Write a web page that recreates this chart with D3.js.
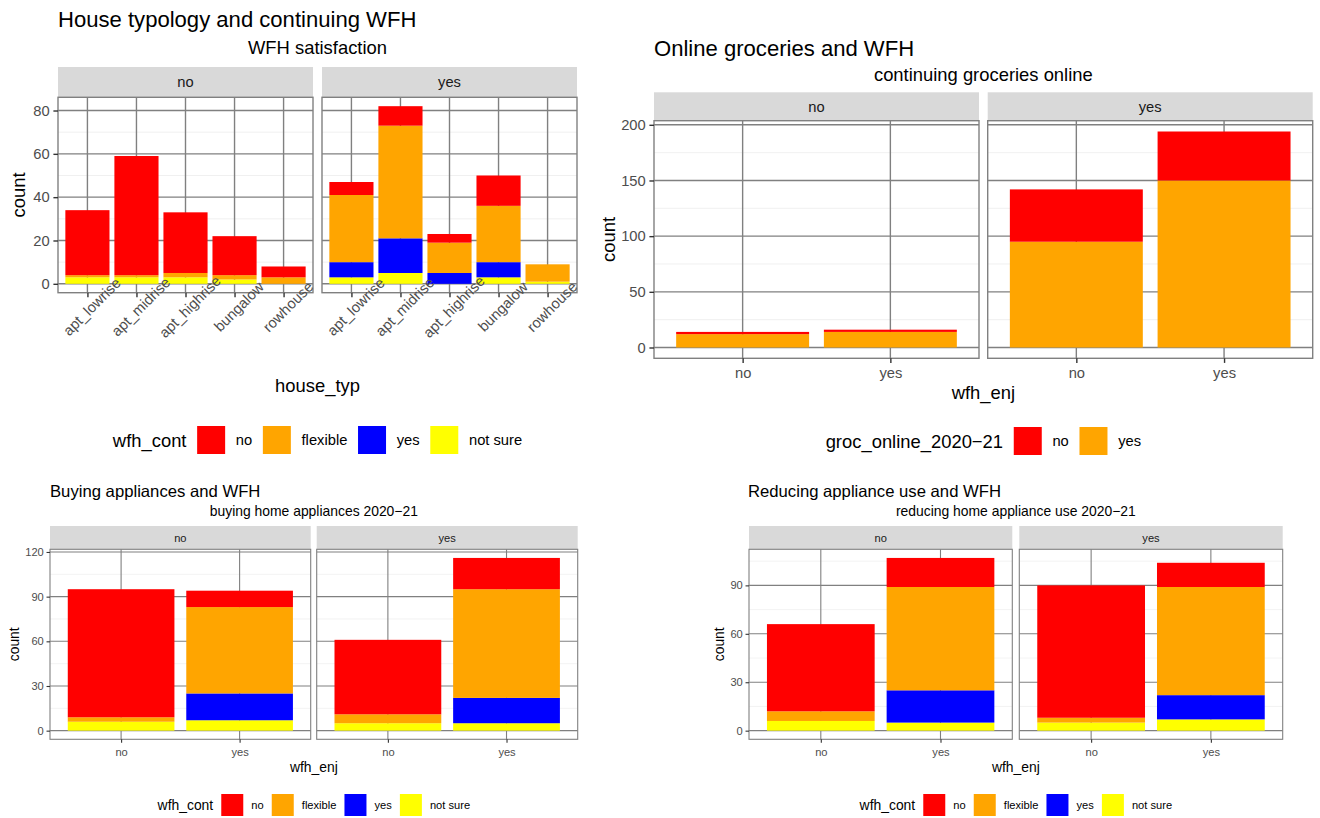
<!DOCTYPE html>
<html>
<head>
<meta charset="utf-8">
<script src="https://cdn.jsdelivr.net/npm/d3@7"></script>
<style>
  body { margin: 0; background: #fff; }
  text { font-family: "Liberation Sans", Arial, Helvetica, sans-serif; }
</style>
</head>
<body>
<svg id="fig" width="1320" height="818"></svg>
<script>
// ---- data ----
var wfhLevels = ["no", "flexible", "yes", "not sure"];
var wfhColors = ["#ff0000", "#ffa500", "#0000ff", "#ffff00"];
var grocLevels = ["no", "yes"];
var grocColors = ["#ff0000", "#ffa500"];
var facetCats = ["no", "yes"];
var houseTypes = ["apt_lowrise", "apt_midrise", "apt_highrise", "bungalow", "rowhouse"];
var enjCats = ["no", "yes"];

// house typology, facet = WFH satisfaction
var house_no_no       = [30, 55, 28, 18, 5];
var house_no_flexible = [1, 1, 2, 2, 3];
var house_no_yes      = [0, 0, 0, 0, 0];
var house_no_notsure  = [3, 3, 3, 2, 0];
var house_yes_no       = [6, 9, 4, 14, 0];
var house_yes_flexible = [31, 52, 14, 26, 8];
var house_yes_yes      = [7, 16, 5, 7, 0];
var house_yes_notsure  = [3, 5, 0, 3, 1];

// online groceries, facet = continuing groceries online, x = wfh_enj
var groc_no_no   = [2, 2];
var groc_no_yes  = [12, 14];
var groc_yes_no  = [47, 44];
var groc_yes_yes = [95, 150];

// buying appliances, facet = buying 2020-21, x = wfh_enj
var buy_no_no       = [86, 11];
var buy_no_flexible = [3, 58];
var buy_no_yes      = [0, 18];
var buy_no_notsure  = [6, 7];
var buy_yes_no       = [50, 21];
var buy_yes_flexible = [6, 73];
var buy_yes_yes      = [0, 17];
var buy_yes_notsure  = [5, 5];

// reducing appliance use, facet = reducing 2020-21, x = wfh_enj
var red_no_no       = [54, 18];
var red_no_flexible = [6, 64];
var red_no_yes      = [0, 20];
var red_no_notsure  = [6, 5];
var red_yes_no       = [82, 15];
var red_yes_flexible = [3, 67];
var red_yes_yes      = [0, 15];
var red_yes_notsure  = [5, 7];

var ticksHouse = [0, 20, 40, 60, 80];
var ticksGroc = [0, 50, 100, 150, 200];
var ticksBuy = [0, 30, 60, 90, 120];
var ticksRed = [0, 30, 60, 90];

var svg = d3.select("#fig");

function drawPlot(cfg) {
    var g = svg.append("g");
    var b = cfg.base, small = b * 0.8;
    var tickLen = b * 0.25, pad = cfg.xPad;

    g.append("text").attr("x", cfg.titleX).attr("y", cfg.titleY)
        .attr("font-size", b * 1.2).attr("fill", "#000").text(cfg.title);
    var left = cfg.panels[0][0], right = cfg.panels[cfg.panels.length - 1][1];
    var cx = (left + right) / 2;
    g.append("text").attr("x", cx).attr("y", cfg.subY).attr("text-anchor", "middle")
        .attr("font-size", b).attr("fill", "#000").text(cfg.subtitle);

    // shared y scale
    var maxTotal = 0;
    cfg.facets.forEach(function(f) {
        cfg.cats.forEach(function(c, i) {
            var t = d3.sum(cfg.keys, function(k) { return cfg.data[f][k][i]; });
            if (t > maxTotal) maxTotal = t;
        });
    });
    var y = d3.scaleLinear()
        .domain([-0.05 * maxTotal, 1.05 * maxTotal])
        .range([cfg.panelBottom, cfg.stripBottom]);
    var color = d3.scaleOrdinal().domain(cfg.keys).range(cfg.colors);
    var stackKeys = cfg.keys.slice().reverse(); // last level at the bottom

    var minor = [];
    var step = cfg.yTicks[1] - cfg.yTicks[0];
    cfg.yTicks.forEach(function(t) { minor.push(t + step / 2); });
    minor.push(cfg.yTicks[0] - step / 2);
    minor = minor.filter(function(m) { return m > y.domain()[0] && m < y.domain()[1]; });

    cfg.facets.forEach(function(f, fi) {
        var x0 = cfg.panels[fi][0], x1 = cfg.panels[fi][1];
        var x = d3.scalePoint().domain(cfg.cats).range([x0, x1]).padding(0.6);
        var bw = x.step() * 0.9;

        // strip
        g.append("rect").attr("x", x0).attr("y", cfg.stripTop)
            .attr("width", x1 - x0).attr("height", cfg.stripBottom - cfg.stripTop)
            .attr("fill", "#d9d9d9");
        g.append("text").attr("x", (x0 + x1) / 2).attr("y", (cfg.stripTop + cfg.stripBottom) / 2)
            .attr("text-anchor", "middle").attr("dominant-baseline", "central")
            .attr("font-size", small).attr("fill", "#1a1a1a").text(f);

        // grid
        g.selectAll(null).data(minor).join("line")
            .attr("x1", x0).attr("x2", x1)
            .attr("y1", function(d) { return y(d); }).attr("y2", function(d) { return y(d); })
            .attr("stroke", "#ededed").attr("stroke-width", cfg.gridW * 0.6);
        g.selectAll(null).data(cfg.yTicks.filter(function(t) { return t <= y.domain()[1]; })).join("line")
            .attr("x1", x0).attr("x2", x1)
            .attr("y1", function(d) { return y(d); }).attr("y2", function(d) { return y(d); })
            .attr("stroke", "#808080").attr("stroke-width", cfg.gridW);
        g.selectAll(null).data(cfg.cats).join("line")
            .attr("x1", function(d) { return x(d); }).attr("x2", function(d) { return x(d); })
            .attr("y1", cfg.stripBottom).attr("y2", cfg.panelBottom)
            .attr("stroke", "#808080").attr("stroke-width", cfg.gridW);

        // bars
        var rows = cfg.cats.map(function(c, i) {
            var r = { cat: c };
            cfg.keys.forEach(function(k) { r[k] = cfg.data[f][k][i]; });
            return r;
        });
        var series = d3.stack().keys(stackKeys)(rows);
        g.selectAll(null).data(series).join("g")
            .attr("fill", function(d) { return color(d.key); })
            .selectAll("rect").data(function(d) { return d; }).join("rect")
            .attr("x", function(d) { return x(d.data.cat) - bw / 2; })
            .attr("y", function(d) { return y(d[1]); })
            .attr("width", bw)
            .attr("height", function(d) { return y(d[0]) - y(d[1]); });

        // panel border
        g.append("rect").attr("x", x0).attr("y", cfg.stripBottom)
            .attr("width", x1 - x0).attr("height", cfg.panelBottom - cfg.stripBottom)
            .attr("fill", "none").attr("stroke", "#808080").attr("stroke-width", cfg.gridW);

        // x axis
        var ax = g.append("g").attr("transform", "translate(0," + cfg.panelBottom + ")")
            .call(d3.axisBottom(x).tickSize(tickLen).tickPadding(pad));
        ax.select(".domain").remove();
        ax.selectAll("line").attr("stroke", "#333").attr("stroke-width", cfg.gridW);
        ax.selectAll("text").attr("font-size", small).attr("fill", "#4d4d4d")
            .attr("font-family", null);
        if (cfg.rotateX) {
            ax.selectAll("text")
                .attr("y", null).attr("dy", null)
                .attr("text-anchor", "middle").attr("dominant-baseline", "central")
                .attr("transform", "translate(4," + (tickLen + 9.5) + ") rotate(-45)");
        }

        // y axis on first facet only
        if (fi === 0) {
            var ay = g.append("g").attr("transform", "translate(" + x0 + ",0)")
                .call(d3.axisLeft(y).tickValues(cfg.yTicks).tickSize(tickLen).tickPadding(b * 0.2));
            ay.select(".domain").remove();
            ay.selectAll("line").attr("stroke", "#333").attr("stroke-width", cfg.gridW);
            ay.selectAll("text").attr("font-size", small).attr("fill", "#4d4d4d")
                .attr("font-family", null);
        }
    });

    // axis titles
    g.append("text").attr("x", cx).attr("y", cfg.xTitleY).attr("text-anchor", "middle")
        .attr("font-size", b).attr("fill", "#000").text(cfg.xTitle);
    var ym = (cfg.stripBottom + cfg.panelBottom) / 2;
    g.append("text").attr("transform", "translate(" + cfg.yTitleX + "," + ym + ") rotate(-90)")
        .attr("text-anchor", "middle").attr("dominant-baseline", "central")
        .attr("font-size", b).attr("fill", "#000").text("count");

    // legend
    var lg = g.append("g");
    var gap = b * 0.58, xpos = 0;
    var lt = lg.append("text").attr("x", 0).attr("y", cfg.legendY)
        .attr("dominant-baseline", "central").attr("font-size", b).attr("fill", "#000")
        .text(cfg.legendTitle);
    xpos = lt.node().getComputedTextLength() + gap;
    cfg.keys.forEach(function(k, i) {
        lg.append("rect").attr("x", xpos).attr("y", cfg.legendY - cfg.keySize / 2)
            .attr("width", cfg.keySize).attr("height", cfg.keySize).attr("fill", cfg.colors[i]);
        xpos += cfg.keySize + gap;
        var tt = lg.append("text").attr("x", xpos).attr("y", cfg.legendY)
            .attr("dominant-baseline", "central").attr("font-size", small).attr("fill", "#000")
            .text(k);
        xpos += tt.node().getComputedTextLength() + gap;
    });
    var total = xpos - gap;
    lg.attr("transform", "translate(" + (cx - total / 2) + ",0)");
}

drawPlot({
    title: "House typology and continuing WFH", titleX: 58, titleY: 27,
    subtitle: "WFH satisfaction", subY: 53.5,
    base: 18.4, gridW: 1.4, xPad: 3.7,
    facets: facetCats, panels: [[58, 313], [322, 577]],
    stripTop: 67, stripBottom: 97.3, panelBottom: 292.7,
    cats: houseTypes, keys: wfhLevels, colors: wfhColors,
    data: {
        no: { "no": house_no_no, "flexible": house_no_flexible, "yes": house_no_yes, "not sure": house_no_notsure },
        yes: { "no": house_yes_no, "flexible": house_yes_flexible, "yes": house_yes_yes, "not sure": house_yes_notsure }
    },
    yTicks: ticksHouse, rotateX: true,
    xTitle: "house_typ", xTitleY: 392, yTitleX: 18,
    legendTitle: "wfh_cont", legendY: 440, keySize: 28
});

drawPlot({
    title: "Online groceries and WFH", titleX: 654, titleY: 56,
    subtitle: "continuing groceries online", subY: 80.5,
    base: 18.4, gridW: 1.4, xPad: 4.5,
    facets: facetCats, panels: [[654, 979], [987.7, 1312.7]],
    stripTop: 92.3, stripBottom: 120.7, panelBottom: 358.3,
    cats: enjCats, keys: grocLevels, colors: grocColors,
    data: {
        no: { "no": groc_no_no, "yes": groc_no_yes },
        yes: { "no": groc_yes_no, "yes": groc_yes_yes }
    },
    yTicks: ticksGroc, rotateX: false,
    xTitle: "wfh_enj", xTitleY: 399, yTitleX: 608,
    legendTitle: "groc_online_2020\u221221", legendY: 441, keySize: 28
});

drawPlot({
    title: "Buying appliances and WFH", titleX: 50, titleY: 496.5,
    subtitle: "buying home appliances 2020\u221221", subY: 516,
    base: 13.9, gridW: 1.1, xPad: 5.3,
    facets: facetCats, panels: [[50, 310.7], [316.7, 577.7]],
    stripTop: 526, stripBottom: 549.3, panelBottom: 739.3,
    cats: enjCats, keys: wfhLevels, colors: wfhColors,
    data: {
        no: { "no": buy_no_no, "flexible": buy_no_flexible, "yes": buy_no_yes, "not sure": buy_no_notsure },
        yes: { "no": buy_yes_no, "flexible": buy_yes_flexible, "yes": buy_yes_yes, "not sure": buy_yes_notsure }
    },
    yTicks: ticksBuy, rotateX: false,
    xTitle: "wfh_enj", xTitleY: 772, yTitleX: 14,
    legendTitle: "wfh_cont", legendY: 805, keySize: 22
});

drawPlot({
    title: "Reducing appliance use and WFH", titleX: 748, titleY: 496.5,
    subtitle: "reducing home appliance use 2020\u221221", subY: 516,
    base: 13.9, gridW: 1.1, xPad: 5.3,
    facets: facetCats, panels: [[749, 1012.3], [1019.3, 1282.7]],
    stripTop: 526, stripBottom: 549.3, panelBottom: 739.3,
    cats: enjCats, keys: wfhLevels, colors: wfhColors,
    data: {
        no: { "no": red_no_no, "flexible": red_no_flexible, "yes": red_no_yes, "not sure": red_no_notsure },
        yes: { "no": red_yes_no, "flexible": red_yes_flexible, "yes": red_yes_yes, "not sure": red_yes_notsure }
    },
    yTicks: ticksRed, rotateX: false,
    xTitle: "wfh_enj", xTitleY: 772, yTitleX: 718.5,
    legendTitle: "wfh_cont", legendY: 805, keySize: 22
});
</script>
</body>
</html>
